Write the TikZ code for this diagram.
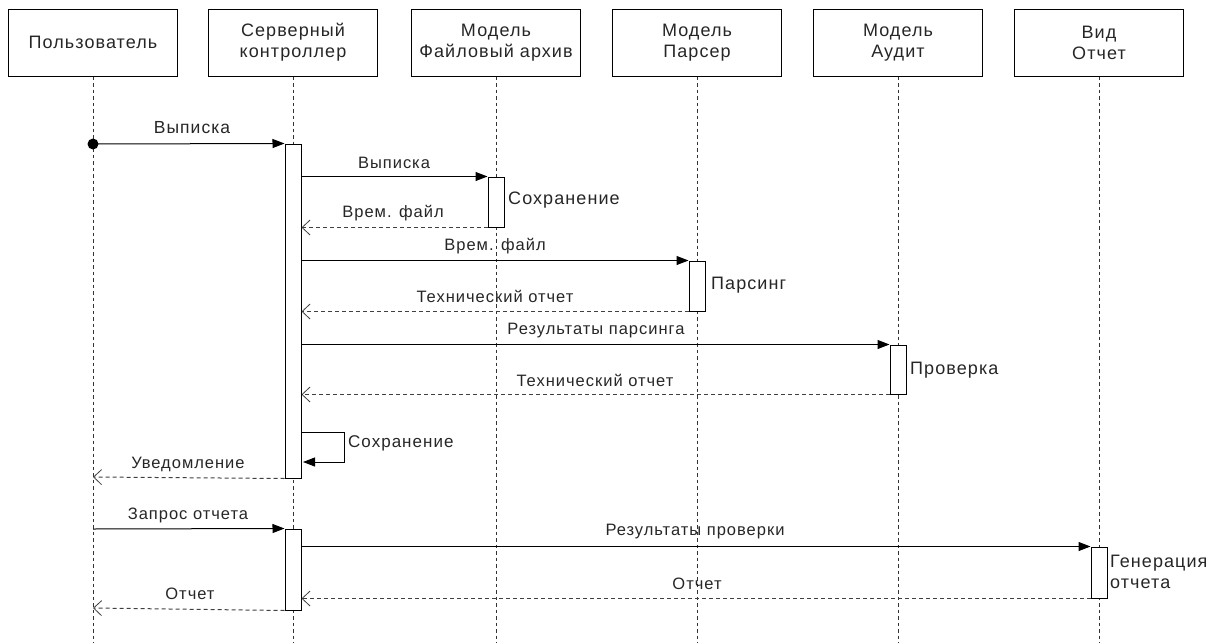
\documentclass[tikz,border=0pt]{standalone}
\usepackage{fontspec}
\setmainfont{Liberation Sans}[LetterSpace=6]
\usetikzlibrary{arrows.meta,calc}
\begin{document}
\begin{tikzpicture}[x=1pt,y=-1pt,
  head/.style={draw, line width=1pt, rectangle, minimum width=169pt, minimum height=67pt, align=center, inner sep=0pt, font=\fontsize{18}{21}\selectfont, text=black!85},
  life/.style={draw, line width=0.8pt, dash pattern=on 3.5pt off 3pt, black!80},
  act/.style={draw, line width=1pt, fill=white, rectangle, minimum width=16pt, inner sep=0pt},
  msg/.style={line width=1pt, -{Triangle[length=12pt,width=9pt]}},
  ret/.style={line width=1pt, dash pattern=on 4pt off 3pt, black!75, -{Straight Barb[length=8pt,width=15pt,line width=0.8pt]}},
  lbl/.style={font=\fontsize{16.5}{19}\selectfont, text=black!85, inner sep=0pt},
  side/.style={font=\fontsize{18}{21}\selectfont, text=black!85, inner sep=0pt, anchor=west, align=left}
]
\useasboundingbox (0,0) rectangle (1227,643);

% heads
\node[head] (h1) at (93,42.5) {Пользователь};
\node[head] (h2) at (293,42.5) {Серверный\\контроллер};
\node[head] (h3) at (496,42.5) {Модель\\Файловый архив};
\node[head] (h4) at (697,42.5) {Модель\\Парсер};
\node[head] (h5) at (898,42.5) {Модель\\Аудит};
\node[head] (h6) at (1099,42.5) {Вид\\Отчет};

% lifeline ends
\coordinate (e1) at (93,643);
\coordinate (e2) at (293,643);
\coordinate (e3) at (496,643);
\coordinate (e4) at (697,643);
\coordinate (e5) at (898,643);
\coordinate (e6) at (1099,643);
\foreach \i in {1,...,6} \draw[life] (h\i.south) -- (e\i);

% activations
\node[act, minimum height=334pt] (a1) at (293,311) {};
\node[act, minimum height=50pt] (a2) at (496,202) {};
\node[act, minimum height=50pt] (a3) at (697,286) {};
\node[act, minimum height=49pt] (a4) at (898,369.5) {};
\node[act, minimum height=81pt] (a5) at (293,569.5) {};
\node[act, minimum height=51pt] (a6) at (1099,572.5) {};

% side labels
\node[side] (s2) at (508,200) {Сохранение};
\node[side] (s3) at (711,285) {Парсинг};
\node[side] (s4) at (910,370) {Проверка};
\node[side] (s6) at (1110,572) {Генерация\\отчета};

% 1
\fill (93,144) circle (5.5pt) coordinate (start);
\draw[msg] (start) -- (a1.north west);
\node[lbl, font=\fontsize{17.5}{20}\selectfont] (m1) at (192,128) {Выписка};
% 2
\draw[msg] (a1.east |- a2.north) -- (a2.north west);
\node[lbl] (m2) at (394,163) {Выписка};
% 3
\draw[ret] (a2.south west) -- (a1.east |- a2.south);
\node[lbl] (m3) at (393,213) {Врем. файл};
% 4
\draw[msg] (a1.east |- a3.north) -- (a3.north west);
\node[lbl] (m4) at (495,246) {Врем. файл};
% 5
\draw[ret] (a3.south west) -- (a1.east |- a3.south);
\node[lbl] (m5) at (495,296) {Технический отчет};
% 6
\draw[msg] (a1.east |- a4.north) -- (a4.north west);
\node[lbl] (m6) at (596,331) {Результаты парсинга};
% 7
\draw[ret] (a4.south west) -- (a1.east |- a4.south);
\node[lbl] (m7) at (595,380) {Технический отчет};
% 8 self
\coordinate (sl1) at (301,432);
\coordinate (sl2) at (301,462);
\draw[msg] (sl1) -- (344,432) -- (344,462) -- ([xshift=2pt]sl2);
\node[side, font=\fontsize{17}{20}\selectfont] (m8) at (348,443) {Сохранение};
% 9
\coordinate (u9) at (93,477);
\draw[ret] (a1.south west) -- (u9);
\node[lbl] (m9) at (188,464) {Уведомление};
% 10
\coordinate (u10) at (93,529);
\draw[msg] (u10) -- (a5.north west);
\node[lbl] (m10) at (188,515) {Запрос отчета};
% 11
\draw[msg] (a5.east |- a6.north) -- (a6.north west);
\node[lbl] (m11) at (695,532) {Результаты проверки};
% 12
\draw[ret] (a6.south west) -- (a5.east |- a6.south);
\node[lbl] (m12) at (697,584) {Отчет};
% 13
\coordinate (u13) at (93,608);
\draw[ret] (a5.south west) -- (u13);
\node[lbl] (m13) at (190,594) {Отчет};
\end{tikzpicture}
\end{document}
